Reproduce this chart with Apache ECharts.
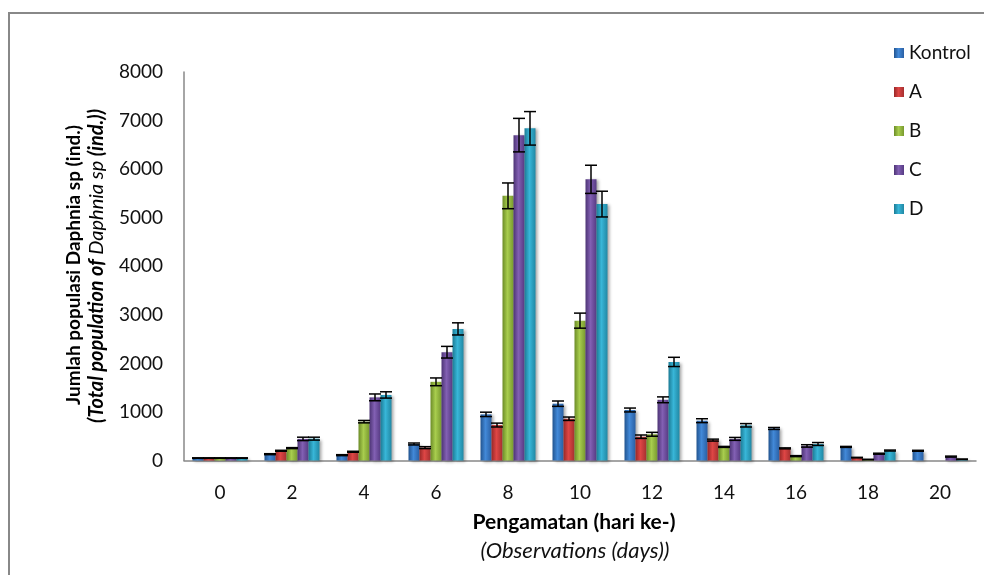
<!DOCTYPE html>
<html>
<head>
<meta charset="utf-8">
<script src="https://cdn.jsdelivr.net/npm/echarts@6/dist/echarts.min.js"></script>
<style>html,body{margin:0;padding:0;background:#fff}#c{width:984px;height:575px}</style>
</head>
<body>
<div id="c"></div>
<script>
const days = ['0','2','4','6','8','10','12','14','16','18','20'];
const seriesNames = ['Kontrol','A','B','C','D'];
const kontrol = [50, 130, 110, 340, 950, 1170, 1040, 820, 660, 280, 200];
const valA    = [50, 200, 180, 265, 730, 860, 490, 420, 250, 60, 0];
const valB    = [50, 255, 800, 1620, 5450, 2880, 540, 280, 90, 20, 0];
const valC    = [50, 445, 1300, 2230, 6700, 5790, 1250, 445, 300, 140, 80];
const valD    = [50, 450, 1350, 2710, 6840, 5280, 2030, 725, 340, 205, 25];
const errK = [5, 10, 10, 20, 45, 55, 40, 40, 20, 10, 10];
const errA = [5, 10, 10, 20, 40, 35, 35, 20, 10, 5, 0];
const errB = [5, 10, 25, 80, 265, 155, 40, 10, 10, 5, 0];
const errC = [5, 35, 70, 120, 345, 290, 60, 30, 25, 10, 10];
const errD = [5, 30, 65, 125, 345, 265, 95, 35, 30, 10, 5];
const yTicks = [0, 8000, 1000];

const values = [kontrol, valA, valB, valC, valD];
const errors = [errK, errA, errB, errC, errD];
const palettes = [
  ['#22548f', '#4289d8', '#2a5fa3'],
  ['#982828', '#de4645', '#a52f2f'],
  ['#6c8c28', '#a8cd4e', '#78992f'],
  ['#4d3475', '#8260b3', '#563a83'],
  ['#1c7b95', '#38b6d8', '#2188a4']
];
const BW = 11;
function grad(p){
  return new echarts.graphic.LinearGradient(0,0,1,0,[
    {offset:0,color:p[0]},{offset:0.45,color:p[1]},{offset:1,color:p[2]}
  ]);
}
const FONT = 'Lato';
const series = [];
seriesNames.forEach((n,i)=>{
  series.push({
    name:n, type:'bar', data:values[i], barWidth:BW, barGap:'0%',
    itemStyle:{color:grad(palettes[i]), shadowColor:'rgba(0,0,0,0.35)', shadowBlur:3, shadowOffsetX:2, shadowOffsetY:1},
    z:2
  });
});
const errData = [];
values.forEach((arr,s)=>arr.forEach((v,k)=>{ if(errors[s][k]>0) errData.push([k, v, errors[s][k], s]); }));
series.push({
  type:'custom', z:5, silent:true,
  data:errData,
  encode:{x:0,y:1},
  renderItem:function(params, api){
    const k = api.value(0), v = api.value(1), e = api.value(2), s = api.value(3);
    const hi = api.coord([k, v+e]);
    const lo = api.coord([k, v-e]);
    const x = hi[0] + (s-2)*BW;
    const hw = 6;
    const st = {stroke:'#000', lineWidth:1.5};
    return {type:'group', children:[
      {type:'line', shape:{x1:x,y1:hi[1],x2:x,y2:lo[1]}, style:st},
      {type:'line', shape:{x1:x-hw,y1:hi[1],x2:x+hw,y2:hi[1]}, style:st},
      {type:'line', shape:{x1:x-hw,y1:lo[1],x2:x+hw,y2:lo[1]}, style:st}
    ]};
  }
});
const chart = echarts.init(document.getElementById('c'), null, {renderer:'canvas'});
chart.setOption({
  animation:false,
  backgroundColor:'#fff',
  textStyle:{fontFamily:FONT},
  grid:{left:184, right:8, top:72, bottom:114.5, containLabel:false},
  legend:{
    data:seriesNames, orient:'vertical', left:889, top:38,
    itemWidth:10, itemHeight:10, itemGap:19, icon:'rect',
    textStyle:{fontFamily:FONT, fontSize:19, color:'#111', lineHeight:20}
  },
  xAxis:{
    type:'category', data:days,
    axisLine:{lineStyle:{color:'#888', width:1.5}},
    axisTick:{show:false},
    axisLabel:{fontFamily:FONT, fontSize:19, color:'#111', margin:23}
  },
  yAxis:{
    type:'value', min:yTicks[0], max:yTicks[1], interval:yTicks[2],
    splitLine:{show:false},
    axisLine:{show:true, lineStyle:{color:'#888', width:1.5}},
    axisTick:{show:false},
    axisLabel:{fontFamily:FONT, fontSize:19, color:'#111', margin:21, formatter:function(v){return String(v);}}
  },
  graphic:[
    {type:'rect', shape:{x:9, y:13, width:1200, height:1000}, style:{fill:'none', stroke:'#888', lineWidth:2}, silent:true},
    {type:'text', x:574, y:522, style:{text:'Pengamatan (hari ke-)', font:'bold 21px Lato', fill:'#000', align:'center', verticalAlign:'middle'}},
    {type:'text', x:575, y:551, style:{text:'(Observations (days))', font:'italic 22px Lato', fill:'#111', align:'center', verticalAlign:'middle'}},
    {type:'text', x:74, y:265, rotation:Math.PI/2, style:{text:'Jumlah populasi Daphnia sp (ind.)', font:'bold 19px Lato', fill:'#000', align:'center', verticalAlign:'middle'}},
    {type:'text', x:97, y:266, rotation:Math.PI/2, style:{
      text:'{b|(Total population of }{n|Daphnia sp}{b| (ind.))}',
      align:'center', verticalAlign:'middle',
      rich:{
        b:{fontFamily:FONT, fontStyle:'italic', fontWeight:'bold', fontSize:20, fill:'#000', color:'#000'},
        n:{fontFamily:FONT, fontStyle:'italic', fontWeight:'normal', fontSize:20, fill:'#000', color:'#000'}
      }
    }}
  ],
  series:series
});
</script>
</body>
</html>
